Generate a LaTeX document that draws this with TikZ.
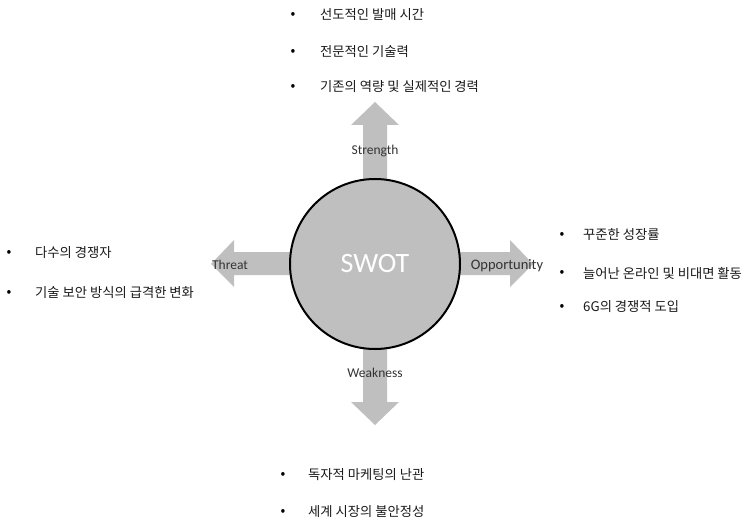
\documentclass[tikz,border=0pt]{standalone}
\usepackage{fontspec}
\setmainfont{Carlito}
\newfontfamily\kofont{Noto Sans CJK KR}
\usetikzlibrary{positioning}
\definecolor{flechegris}{HTML}{BFBFBF}
\definecolor{textegris}{HTML}{333333}
\tikzset{
  fleche/.style={fill=flechegris, draw=none},
  axe/.style={text=textegris, font=\fontsize{13.5}{15}\selectfont, inner sep=0pt},
  puce/.style={text=black, font=\kofont\fontsize{14}{15}\selectfont, inner sep=0pt},
  ligne/.style={text=black!90, font=\kofont\fontsize{13.3}{15}\selectfont, inner sep=0pt, anchor=west}
}
\begin{document}
\begin{tikzpicture}[x=1pt, y=-1pt]
            \useasboundingbox (0,0) rectangle (747,524);
            % Flèches
            \fill[fleche] (363,264) -- (363,125) -- (351,125) -- (375,102) -- (399,125) -- (387,125) -- (387,264) -- cycle;
            \fill[fleche] (363,264) -- (363,402) -- (351,402) -- (375,425) -- (399,402) -- (387,402) -- (387,264) -- cycle;
            \fill[fleche] (375,252) -- (234,252) -- (234,240) -- (211,264) -- (234,287) -- (234,275) -- (375,275) -- cycle;
            \fill[fleche] (375,252) -- (510,252) -- (510,240) -- (533,264) -- (510,287) -- (510,275) -- (375,275) -- cycle;
            % Cercle
            \node[circle, draw=black, line width=2pt, fill=flechegris, minimum size=170pt,
                  text=white, font=\fontsize{28}{30}\selectfont] (swot) at (375,264) {SWOT};
            % Etiquettes
            \node[axe] (strength) at (375,151) {Strength};
            \node[axe] (weakness) at (375,373) {Weakness};
            \node[axe] (threat) at (230,265) {Threat};
            \node[axe, font=\fontsize{14.5}{16}\selectfont] (opportunity) at (507,266) {Opportunity};
            % Listes
            \foreach \y/\txt [count=\i] in {15/선도적인 발매 시간, 52/전문적인 기술력, 87/기존의 역량 및 실제적인 경력} {
                \node[puce] (sb\i) at (293,\y) {•};
                \node[ligne] (s\i) at (320,\y) {\txt};
            }
            \foreach \y/\txt [count=\i] in {253/다수의 경쟁자, 293/기술 보안 방식의 급격한 변화} {
                \node[puce] (tb\i) at (9,\y) {•};
                \node[ligne] (t\i) at (35,\y) {\txt};
            }
            \foreach \y/\txt [count=\i] in {235/꾸준한 성장률, 273/늘어난 온라인 및 비대면 활동, 307/6G의 경쟁적 도입} {
                \node[puce] (ob\i) at (562,\y) {•};
                \node[ligne] (o\i) at (583,\y) {\txt};
            }
            \foreach \y/\txt [count=\i] in {475/독자적 마케팅의 난관, 512/세계 시장의 불안정성} {
                \node[puce] (wb\i) at (283,\y) {•};
                \node[ligne] (w\i) at (308,\y) {\txt};
            }
        \end{tikzpicture}
\end{document}
